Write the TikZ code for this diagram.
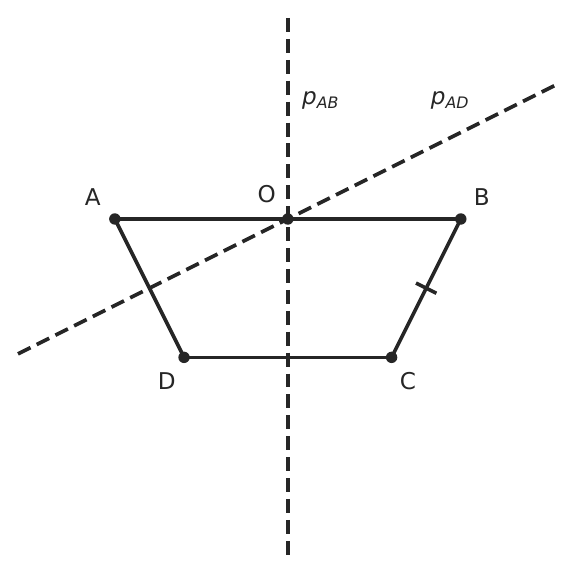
\documentclass[tikz,border=0pt]{standalone}
\usepackage{fontspec}
\setmainfont{DejaVu Sans}
\usetikzlibrary{calc}
\definecolor{ink}{HTML}{262626}
\newcommand{\bisname}[1]{\textit{p}\raisebox{-0.2em}{\fontsize{13}{15}\selectfont\textit{#1}}}

\begin{document}
\begin{tikzpicture}[
      x=1cm,y=1cm,
      edge/.style={draw=ink,line width=3pt},
      bisector/.style={draw=ink,line width=3pt,dash pattern=on 11.5pt off 5.7pt},
      vertex/.style={circle,fill=ink,inner sep=0pt,minimum size=0.33cm},
      lbl/.style={text=ink,font=\fontsize{19}{22}\selectfont,inner sep=0pt}
      ]

	      \useasboundingbox (-8.32,-10.32) rectangle (8.32,6.33);

	      % vertices
	      \coordinate (A) at (-5,0);
	      \coordinate (B) at (5,0);
	      \coordinate (C) at (3,-4);
	      \coordinate (D) at (-3,-4);
	      \coordinate (O) at (0,0);

	      % bisectors
	      \coordinate (pABtop) at (0,5.81);
	      \coordinate (pABbot) at (0,-9.77);
	      \coordinate (pADlo) at (-7.8,-3.9);
	      \coordinate (pADhi) at (7.8,3.9);
	      \draw[bisector] (pABtop) -- (pABbot);
	      \draw[bisector] (pADlo) -- (pADhi);

	      % trapezoid
	      \draw[edge] (A) -- (B);
	      \draw[edge] (B) -- (C);
	      \draw[edge] (C) -- (D);
	      \draw[edge] (D) -- (A);

	      % tick on BC
	      \coordinate (M) at ($(B)!0.5!(C)$);
	      \draw[edge] ($(M)!0.33cm!90:(C)$) -- ($(M)!0.33cm!-90:(C)$);

	      \foreach \v in {A,B,C,D,O} \node[vertex] at (\v) {};

	      % labels
	      \node[lbl] (labA) at (-5.64,0.64) {A};
	      \node[lbl] (labB) at (5.61,0.64) {B};
	      \node[lbl] (labO) at (-0.61,0.72) {O};
	      \node[lbl] (labD) at (-3.5,-4.68) {D};
	      \node[lbl] (labC) at (3.47,-4.68) {C};
	      \node[lbl] (labpAB) at (0.94,3.44) {\bisname{AB}};
	      \node[lbl] (labpAD) at (4.68,3.44) {\bisname{AD}};

\end{tikzpicture}
\end{document}
